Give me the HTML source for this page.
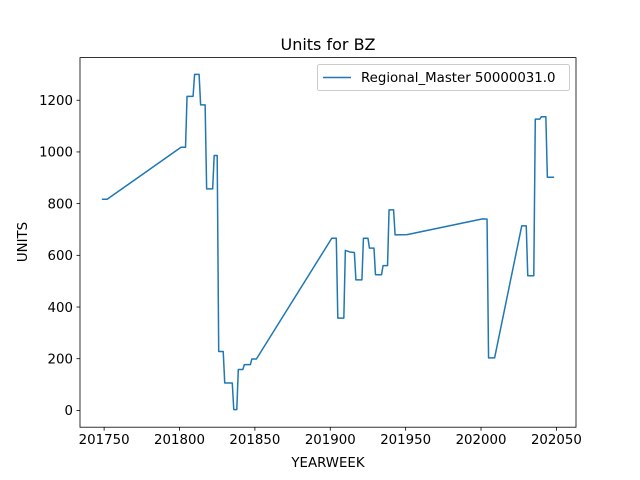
<!DOCTYPE html>
<html><head><meta charset="utf-8"><style>
body{margin:0;background:#fff}
svg{display:block;font-family:"DejaVu Sans","Liberation Sans",sans-serif}
</style></head><body>
<svg id="chart" width="640" height="480" xmlns="http://www.w3.org/2000/svg">
<rect width="640" height="480" fill="#fff"/>
<g id="plot"></g>
</svg>
<script>
const weeks = [201749,201752,201801,201804,201805,201809,201810,201813,201814,201817,201818,201822,201823,201825,201826,201829,201830,201835,201836,201838,201839,201842,201843,201847,201848,201851,
201901,201904,201905,201909,201910,201913,201916,201917,201921,201922,201925,201926,201929,201930,201934,201935,201938,201939,201942,201943,201951,
202001,202004,202005,202009,202027,202030,202031,202035,202036,202039,202040,202043,202044,202048];
const units = [817,817,1018,1018,1215,1215,1300,1300,1182,1182,857,857,986,986,228,228,106,106,3,3,158,158,177,177,199,199,
666,666,357,357,619,613,611,505,505,666,666,628,628,525,525,560,560,776,776,679,680,
741,740,203,203,714,714,521,521,1127,1127,1136,1136,902,902];
const xTicks = [201750,201800,201850,201900,201950,202000,202050];
const yTicks = [0,200,400,600,800,1000,1200];

const NS="http://www.w3.org/2000/svg";
const L=80,R=576,T=57.6,B=427.2;
const xMin=201734,xMax=202063,yMin=-65,yMax=1365;
const X=v=>L+(v-xMin)/(xMax-xMin)*(R-L);
const Y=v=>B-(v-yMin)/(yMax-yMin)*(B-T);
const g=document.getElementById('plot');
function mk(tag,attrs,text){const e=document.createElementNS(NS,tag);for(const k in attrs)e.setAttribute(k,attrs[k]);if(text!==undefined)e.textContent=text;g.appendChild(e);return e;}

const line=mk('polyline',{points:weeks.map((w,i)=>X(w).toFixed(2)+','+Y(units[i]).toFixed(2)).join(' '),fill:'none',stroke:'#1f77b4','stroke-width':1.5,'stroke-linejoin':'round','stroke-linecap':'square'});



const frame=mk('rect',{x:L,y:T,width:R-L,height:B-T,fill:'none',stroke:'#000','stroke-width':0.8});



xTicks.forEach(t=>{
  const tk=mk('line',{x1:X(t),x2:X(t),y1:B,y2:B+3.5,stroke:'#000','stroke-width':0.8});
  
  
  const lb=mk('text',{x:X(t),y:B+17,'text-anchor':'middle','font-size':'13.33'},String(t));
  
  
});
yTicks.forEach(t=>{
  const tk=mk('line',{x1:L-3.5,x2:L,y1:Y(t),y2:Y(t),stroke:'#000','stroke-width':0.8});
  
  
  const lb=mk('text',{x:L-7,y:Y(t)+4.8,'text-anchor':'end','font-size':'13.33'},String(t));
  
  
});

const title=mk('text',{x:(L+R)/2,y:50,'text-anchor':'middle','font-size':'16'},'Units for BZ');


const xl=mk('text',{x:(L+R)/2,y:467,'text-anchor':'middle','font-size':'13.33'},'YEARWEEK');


const yl=mk('text',{x:0,y:0,'text-anchor':'middle','font-size':'13.33',transform:'translate(27,242) rotate(-90)'},'UNITS');



const lg=mk('rect',{x:317.5,y:64.5,width:252,height:26,rx:2,fill:'#fff','fill-opacity':0.8,stroke:'#ccc','stroke-width':1});


const ll=mk('line',{x1:323,x2:351,y1:77.5,y2:77.5,stroke:'#1f77b4','stroke-width':1.5});


const lt=mk('text',{x:361,y:82,'font-size':'13.33'},'Regional_Master 50000031.0');


</script>
</body></html>
